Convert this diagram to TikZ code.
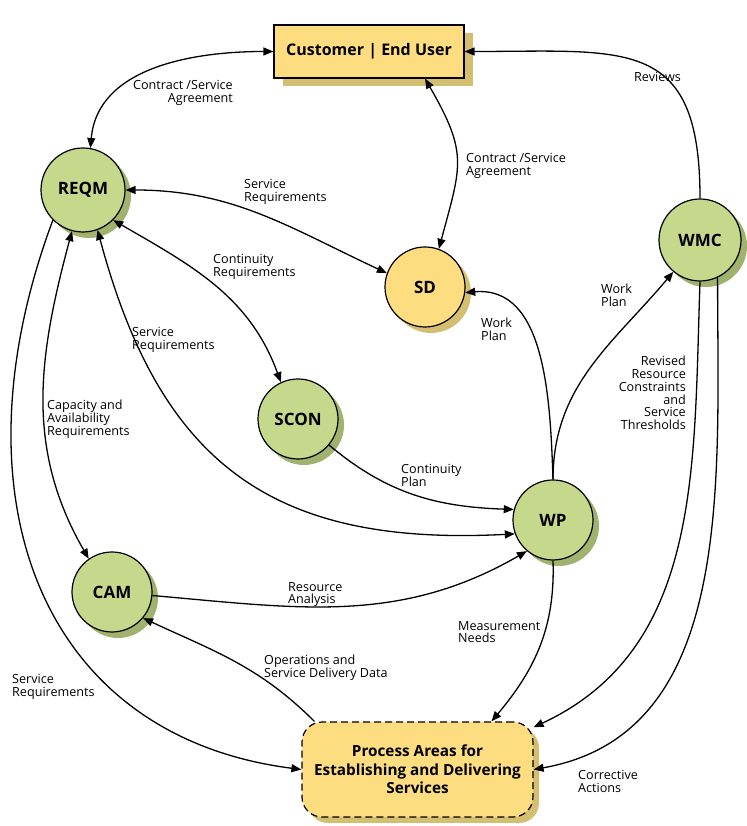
\documentclass[tikz,border=0pt]{standalone}
\usepackage{fontspec}
\setmainfont{Open Sans}
\usetikzlibrary{arrows.meta,shadows}
\definecolor{gfill}{RGB}{197,216,139}
\definecolor{gshadow}{RGB}{160,178,110}
\definecolor{yfill}{RGB}{253,221,128}
\definecolor{yshadow}{RGB}{212,190,112}
\begin{document}
\begin{tikzpicture}[x=1pt,y=1pt,
  circ/.style={circle, draw, line width=1.2pt, minimum size=80pt, inner sep=0pt,
    font=\fontsize{17}{19}\selectfont\bfseries},
  gcirc/.style={circ, fill=gfill, drop shadow={shadow xshift=6pt,shadow yshift=-6pt,fill=gshadow,opacity=1}},
  ycirc/.style={circ, fill=yfill, drop shadow={shadow xshift=6pt,shadow yshift=-6pt,fill=yshadow,opacity=1}},
  lab/.style={inner sep=0pt, font=\fontsize{12.6}{12.8}\selectfont, align=left},
  conn/.style={line width=1.3pt, -{Triangle[length=10pt,width=8pt]}},
  bconn/.style={line width=1.3pt, {Triangle[length=10pt,width=8pt]}-{Triangle[length=10pt,width=8pt]}},
]
\path[use as bounding box] (0,0) rectangle (746,826);

% nodes
\node[draw, line width=1.2pt, fill=yfill, minimum width=190pt, minimum height=53pt, inner sep=0pt,
  font=\fontsize{16}{18}\selectfont\bfseries,
  drop shadow={shadow xshift=9pt,shadow yshift=-8pt,fill=yshadow,opacity=1}]
  (cust) at (369,774.5) {Customer | End User};
\node[gcirc, minimum size=84pt] (REQM) at (83,636) {REQM};
\node[ycirc] (SD) at (425,539) {SD};
\node[gcirc] (SCON) at (298,407) {SCON};
\node[gcirc] (WP) at (553,306) {WP};
\node[gcirc, minimum size=82pt] (WMC) at (700,586) {WMC};
\node[gcirc] (CAM) at (112,234) {CAM};
\node[draw, dashed, dash pattern=on 7pt off 4pt, line width=1.2pt, fill=yfill, rounded corners=20pt,
  minimum width=231pt, minimum height=95pt, inner sep=0pt, align=center,
  font=\fontsize{15.3}{18.5}\selectfont\bfseries,
  drop shadow={shadow xshift=6pt,shadow yshift=-6pt,fill=yshadow,opacity=1}]
  (proc) at (417.5,56.5) {Process Areas for\\Establishing and Delivering\\Services};

% connectors
\draw[bconn] (cust.west) to[out=180,in=85] (REQM.80);
\draw[bconn] ([xshift=56pt]cust.south) to[out=-60,in=75,looseness=1.3] (SD.70);
\draw[conn] (WMC.90) to[out=90,in=0,looseness=1.5] (cust.east);
\draw[bconn] (REQM.0) to[out=0,in=155] (SD.160);
\draw[bconn] (REQM.-45) to[out=-30,in=110] (SCON.115);
\draw[bconn] (REQM.-70) to[out=-75,in=183,looseness=1.2] (WP.200);
\draw[bconn] (REQM.-105) to[out=-105,in=120] (CAM.125);
\draw[conn] (REQM.-135) .. controls +(-103,-276) and +(-262,33.5) .. (proc.west);
\draw[conn] (SCON.-40) to[out=-40,in=178] (WP.165);
\draw[conn] (WP.90) to[out=92,in=5] (SD.-8);
\draw[conn] (WP.90) to[out=90,in=-130] (WMC.-130);
\draw[conn] (CAM.-5) to[out=-5,in=-150] (WP.-130);
\draw[conn] (WP.-90) to[out=-88,in=50] ([xshift=74pt]proc.north);
\draw[conn] (WMC.-90) to[out=-92,in=25] (proc.20);
\draw[conn] (WMC.-65) to[out=-90,in=10] (proc.east);
\draw[conn] ([xshift=13pt]proc.north west) to[out=135,in=-25] (CAM.-40);

% labels
\node[lab, anchor=north east, align=right] (l1) at (233,746) {Contract /Service\\Agreement};
\node[lab, anchor=north west] (l2) at (466,673) {Contract /Service\\Agreement};
\node[lab, anchor=west] (l3) at (634,749) {Reviews};
\node[lab, anchor=north west] (l4) at (244,647) {Service\\Requirements};
\node[lab, anchor=north west] (l5) at (213,572) {Continuity\\Requirements};
\node[lab, anchor=north west] (l6) at (132,499) {Service\\Requirements};
\node[lab, anchor=north west] (l7) at (47,426) {Capacity and\\Availability\\Requirements};
\node[lab, anchor=north west] (l8) at (481,508) {Work\\Plan};
\node[lab, anchor=north west] (l9) at (601,542) {Work\\Plan};
\node[lab, anchor=north east, align=right] (l10) at (686,470) {Revised\\Resource\\Constraints\\and\\Service\\Thresholds};
\node[lab, anchor=north west] (l11) at (401,362) {Continuity\\Plan};
\node[lab, anchor=north west] (l12) at (288,244) {Resource\\Analysis};
\node[lab, anchor=north west] (l13) at (458,205) {Measurement\\Needs};
\node[lab, anchor=north west] (l14) at (264,171) {Operations and\\Service Delivery Data};
\node[lab, anchor=north west] (l15) at (12,152) {Service\\Requirements};
\node[lab, anchor=north west] (l16) at (578,56) {Corrective\\Actions};
\end{tikzpicture}
\end{document}
